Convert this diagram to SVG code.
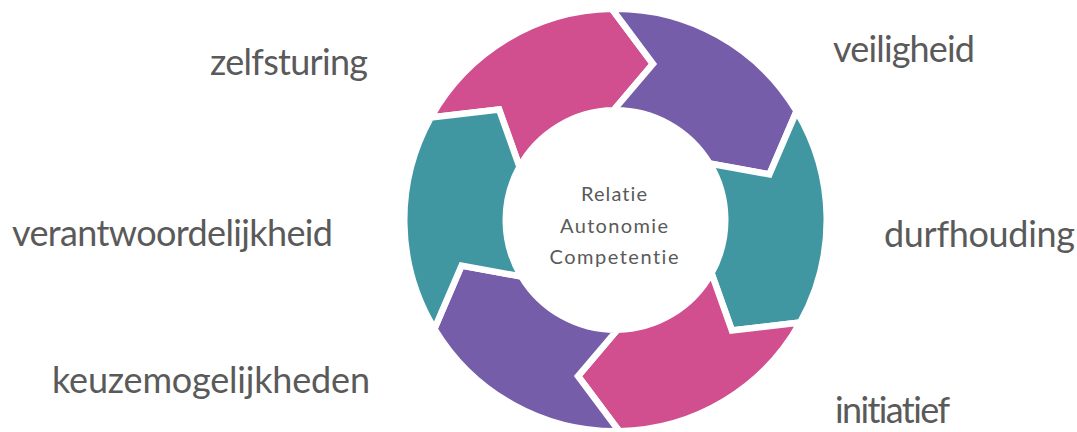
<svg xmlns="http://www.w3.org/2000/svg" xmlns:xlink="http://www.w3.org/1999/xlink" width="1077" height="432" viewBox="0 0 1077 432">
  <style>
    .seg { stroke: #ffffff; stroke-width: 6.5; stroke-linejoin: miter; }
    .pink { fill: #D14F8F; }
    .purple { fill: #755DAA; }
    .teal { fill: #4197A1; }
    text { font-variant-ligatures: none; font-feature-settings: "liga" 0, "clig" 0; }
    .lbl { font-family: Lato, "Open Sans", sans-serif; font-size: 36px; font-weight: 400; fill: #5a5a5a; }
    .ctr { font-family: Lato, "Open Sans", sans-serif; font-size: 20px; font-weight: 400; fill: #5a5a5a; text-anchor: middle; }
  </style>
  <defs>
    <path id="arrowSeg" d="M430.74,117.58 A211.25,211.25 0 0 1 611.81,8.78 L652.97,63.93 L613.59,110.27 A109.75,109.75 0 0 0 519.51,166.79 L499.08,109.52 Z"/>
  </defs>
  <rect width="1077" height="432" fill="#ffffff"/>
  <g id="cycle">
    <g id="seg-zelfsturing"><use xlink:href="#arrowSeg" href="#arrowSeg" class="seg pink"/></g>
    <g id="seg-veiligheid"><use xlink:href="#arrowSeg" href="#arrowSeg" class="seg purple" transform="rotate(60 615.5 220)"/></g>
    <g id="seg-durfhouding"><use xlink:href="#arrowSeg" href="#arrowSeg" class="seg teal" transform="rotate(120 615.5 220)"/></g>
    <g id="seg-initiatief"><use xlink:href="#arrowSeg" href="#arrowSeg" class="seg pink" transform="rotate(180 615.5 220)"/></g>
    <g id="seg-keuzemogelijkheden"><use xlink:href="#arrowSeg" href="#arrowSeg" class="seg purple" transform="rotate(240 615.5 220)"/></g>
    <g id="seg-verantwoordelijkheid"><use xlink:href="#arrowSeg" href="#arrowSeg" class="seg teal" transform="rotate(300 615.5 220)"/></g>
  </g>
  <g id="center">
    <text class="ctr" x="614" y="201" textLength="66" lengthAdjust="spacing">Relatie</text>
    <text class="ctr" x="614" y="233" textLength="108" lengthAdjust="spacing">Autonomie</text>
    <text class="ctr" x="614" y="264" textLength="129" lengthAdjust="spacing">Competentie</text>
  </g>
  <g id="labels">
    <text id="t-zelfsturing" class="lbl" x="210" y="75" textLength="158" lengthAdjust="spacing">zelfsturing</text>
    <text id="t-veiligheid" class="lbl" x="833" y="62" textLength="142" lengthAdjust="spacing">veiligheid</text>
    <text id="t-durfhouding" class="lbl" x="884" y="247" textLength="191" lengthAdjust="spacing">durfhouding</text>
    <text id="t-initiatief" class="lbl" x="835" y="423" textLength="115" lengthAdjust="spacing">initiatief</text>
    <text id="t-verantwoordelijkheid" class="lbl" x="12" y="246" textLength="321" lengthAdjust="spacing">verantwoordelijkheid</text>
    <text id="t-keuzemogelijkheden" class="lbl" x="52" y="393" textLength="318" lengthAdjust="spacing">keuzemogelijkheden</text>
  </g>
</svg>
